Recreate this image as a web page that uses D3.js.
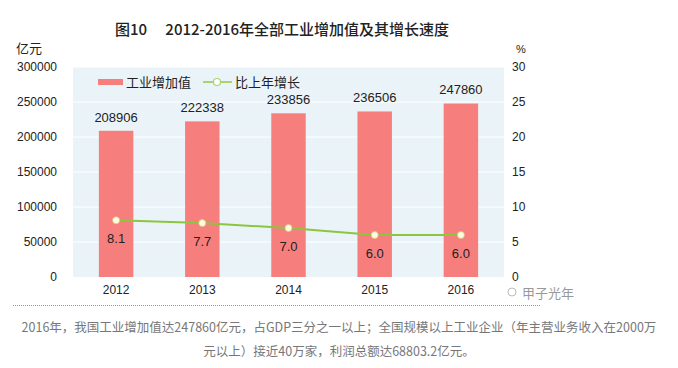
<!DOCTYPE html>
<html><head><meta charset="utf-8">
<script src="https://cdn.jsdelivr.net/npm/d3@7/dist/d3.min.js"></script>
<style>
body{margin:0;background:#fff;}
svg{display:block;font-family:"Liberation Sans","Noto Sans CJK SC",sans-serif;}
</style></head><body>
<svg id="c" width="678" height="368"></svg>
<script>
const years = ["2012","2013","2014","2015","2016"];
const values = [208906, 222338, 233856, 236506, 247860];
const growth = [8.1, 7.7, 7.0, 6.0, 6.0];
const leftTicks = [0, 50000, 100000, 150000, 200000, 250000, 300000];
const rightTicks = [0, 5, 10, 15, 20, 25, 30];

const svg = d3.select("#c");
const L = 73, R = 504, T = 67, B = 277;
const x = d3.scaleBand().domain(years).range([L, R]).paddingInner(0.6).paddingOuter(0.3);
const y = d3.scaleLinear().domain([0, 300000]).range([B, T]);
const y2 = d3.scaleLinear().domain([0, 30]).range([B, T]);
const cx = d => x(d) + x.bandwidth() / 2;
const cjk = '"Noto Sans CJK SC",sans-serif';

// title
svg.append("text").attr("x", 282).attr("y", 35).attr("text-anchor", "middle")
  .attr("font-family", cjk).attr("font-size", 15).attr("font-weight", 500).attr("fill", "#222")
  .text("图10\u3000 2012-2016年全部工业增加值及其增长速度");

// plot bg
svg.append("rect").attr("x", L).attr("y", T).attr("width", R - L).attr("height", B - T).attr("fill", "#eaf4f8");
// grid
svg.append("g").selectAll("line").data(leftTicks.slice(1)).join("line")
  .attr("x1", L).attr("x2", R).attr("y1", d => y(d)).attr("y2", d => y(d))
  .attr("stroke", "#ffffff").attr("stroke-width", 1);

// axes
const ax = svg.append("g").attr("transform", `translate(${L - 16},0)`)
  .call(d3.axisLeft(y).tickValues(leftTicks).tickFormat(d3.format("d")).tickSize(0).tickPadding(0));
ax.select(".domain").remove();
ax.selectAll("text").attr("font-size", 12).attr("fill", "#222").attr("font-family", '"Liberation Sans",sans-serif');

const ax2 = svg.append("g").attr("transform", `translate(${R + 8},0)`)
  .call(d3.axisRight(y2).tickValues(rightTicks).tickFormat(d3.format("d")).tickSize(0).tickPadding(0));
ax2.select(".domain").remove();
ax2.selectAll("text").attr("font-size", 12).attr("fill", "#222").attr("font-family", '"Liberation Sans",sans-serif');

const axb = svg.append("g").attr("transform", `translate(0,${B + 6})`)
  .call(d3.axisBottom(x).tickSize(0).tickPadding(0));
axb.select(".domain").remove();
axb.selectAll("text").attr("font-size", 12).attr("fill", "#222").attr("dy", "0.9em").attr("font-family", '"Liberation Sans",sans-serif');

// units
svg.append("text").attr("x", 42).attr("y", 53).attr("text-anchor", "end").attr("font-family", cjk)
  .attr("font-size", 13).attr("fill", "#222").text("亿元");
svg.append("text").attr("x", 521).attr("y", 53).attr("text-anchor", "middle")
  .attr("font-size", 11).attr("fill", "#222").text("%");

// bars
svg.append("g").selectAll("rect").data(years).join("rect")
  .attr("x", d => x(d)).attr("width", x.bandwidth())
  .attr("y", (d, i) => y(values[i])).attr("height", (d, i) => B - y(values[i]))
  .attr("fill", "#f67f7d");
svg.append("g").selectAll("text").data(years).join("text")
  .attr("x", d => cx(d)).attr("y", (d, i) => y(values[i]) - 9)
  .attr("text-anchor", "middle").attr("font-size", 13).attr("fill", "#222")
  .text((d, i) => values[i]);

// line
const line = d3.line().x((d, i) => cx(years[i])).y(d => y2(d));
svg.append("path").datum(growth).attr("d", line).attr("fill", "none")
  .attr("stroke", "#8cc63e").attr("stroke-width", 2);
svg.append("g").selectAll("circle").data(growth).join("circle")
  .attr("cx", (d, i) => cx(years[i])).attr("cy", d => y2(d)).attr("r", 3.5)
  .attr("fill", "#fffbe0").attr("stroke", "#d8c97a").attr("stroke-width", 0.8);
svg.append("g").selectAll("text").data(growth).join("text")
  .attr("x", (d, i) => cx(years[i])).attr("y", d => y2(d) + 23)
  .attr("text-anchor", "middle").attr("font-size", 13).attr("fill", "#222")
  .text(d => d.toFixed(1));

// legend
const lg = svg.append("g");
lg.append("rect").attr("x", 98).attr("y", 79).attr("width", 25).attr("height", 6).attr("fill", "#f67f7d");
lg.append("text").attr("x", 126).attr("y", 87).attr("font-family", cjk).attr("font-size", 13).attr("fill", "#222").text("工业增加值");
lg.append("line").attr("x1", 203).attr("x2", 232).attr("y1", 82).attr("y2", 82).attr("stroke", "#a6d46f").attr("stroke-width", 2);
lg.append("circle").attr("cx", 217).attr("cy", 82).attr("r", 3.5).attr("fill", "#fff").attr("stroke", "#a6d46f").attr("stroke-width", 1.2);
lg.append("text").attr("x", 235).attr("y", 87).attr("font-family", cjk).attr("font-size", 13).attr("fill", "#222").text("比上年增长");

// watermark
svg.append("text").attr("x", 522).attr("y", 298).attr("font-family", cjk).attr("font-size", 13)
  .attr("fill", "#888").attr("opacity", 0.85).text("甲子光年");
svg.append("circle").attr("cx", 512).attr("cy", 292).attr("r", 4).attr("fill", "none").attr("stroke", "#bbb");

// separator
svg.append("line").attr("x1", 13).attr("x2", 540).attr("y1", 305.5).attr("y2", 305.5)
  .attr("stroke", "#999").attr("stroke-dasharray", "1,1");

// caption
const cap = ["2016年，我国工业增加值达247860亿元，占GDP三分之一以上；全国规模以上工业企业（年主营业务收入在2000万",
             "元以上）接近40万家，利润总额达68803.2亿元。"];
svg.append("g").selectAll("text").data(cap).join("text")
  .attr("x", 339).attr("y", (d, i) => 332 + i * 24).attr("text-anchor", "middle")
  .attr("font-family", cjk).attr("font-size", 12.5).attr("fill", "#777")
  .text(d => d);
</script>
</body></html>
